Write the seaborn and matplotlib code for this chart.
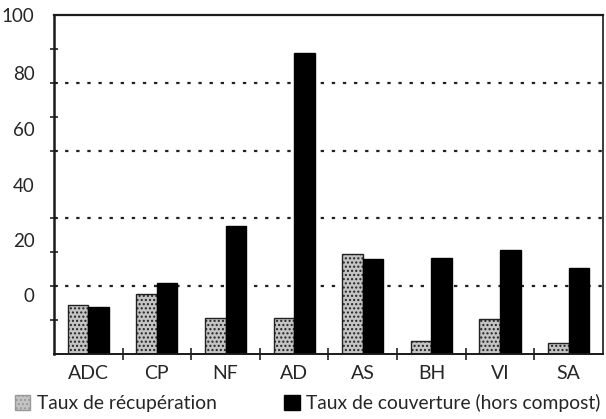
import matplotlib

matplotlib.use("Agg")
import matplotlib.pyplot as plt
import pandas as pd
import seaborn as sns
from matplotlib.patches import Patch

sites = ["ADC", "CP", "NF", "AD", "AS", "BH", "VI", "SA"]
recuperation = [14.5, 17.7, 10.6, 10.6, 29.5, 3.8, 10.3, 3.2]
couverture = [13.9, 21.0, 37.8, 88.7, 28.1, 28.3, 30.7, 25.4]
series = ["Taux de récupération", "Taux de couverture (hors compost)"]
# the scanned y labels sit off the gridlines; keep them where they appear
ylabel_text = ["100", "80", "60", "40", "20", "0"]
ylabel_pos = [100, 83, 66.5, 50, 33.5, 17.5]

df = pd.DataFrame({
    "site": sites * 2,
    "serie": [series[0]] * len(sites) + [series[1]] * len(sites),
    "taux": recuperation + couverture,
})

sns.set_theme(style="white")
plt.rcParams["font.family"] = ["Lato", "DejaVu Sans"]

fig = plt.figure(figsize=(6.06, 4.19), dpi=100)
ax = fig.add_axes([0.089, 0.155, 0.906, 0.809])

sns.barplot(data=df, x="site", y="taux", hue="serie", order=sites,
            hue_order=series, palette=["#c4c4c4", "#000000"], width=0.6,
            saturation=1, ax=ax, legend=False)

plt.rcParams["hatch.color"] = "#7a7a7a"
for bar in ax.containers[0]:
    bar.set_hatch("....")
    bar.set_edgecolor("#222222")
    bar.set_linewidth(1.0)
for bar in ax.containers[1]:
    bar.set_edgecolor("black")

ax.set_ylim(0, 100)
ax.set_xlim(-0.5, len(sites) - 0.5)
for y in [20, 40, 60, 80]:
    ax.axhline(y, color="#222222", lw=1.6, ls=(0, (1.5, 3.5)), zorder=0)

ax.set_yticks(ylabel_pos, ylabel_text)
ax.set_yticks(range(10, 100, 10), minor=True)
ax.tick_params(axis="y", which="major", length=0, labelsize=13.5, pad=14)
ax.tick_params(axis="y", which="minor", length=6, width=1.2, direction="inout",
               left=True, color="#222222")
ax.set_xticks(range(len(sites)), sites)
ax.set_xticks([i + 0.5 for i in range(len(sites) - 1)], minor=True)
ax.tick_params(axis="x", which="major", length=0, labelsize=14, pad=8)
ax.tick_params(axis="x", which="minor", length=8, width=1.2, direction="inout",
               bottom=True, color="#222222")
ax.set_xlabel("")
ax.set_ylabel("")

for side in ["left", "bottom", "top", "right"]:
    ax.spines[side].set_color("#1a1a1a")
ax.spines["left"].set_linewidth(1.8)
ax.spines["bottom"].set_linewidth(1.4)
ax.spines["top"].set_linewidth(1.6)
ax.spines["right"].set_linewidth(1.2)

handles = [
    Patch(facecolor="#c4c4c4", edgecolor="#999999", hatch="....", label=series[0]),
    Patch(facecolor="black", edgecolor="black", label=series[1]),
]
fig.legend(handles=handles, loc="lower left", bbox_to_anchor=(0.005, -0.012),
           ncol=2, frameon=False, fontsize=13.9, handlelength=0.8,
           handleheight=0.8, handletextpad=0.35, columnspacing=3.5,
           borderaxespad=0.2)

fig.savefig("out.png", dpi=100)
